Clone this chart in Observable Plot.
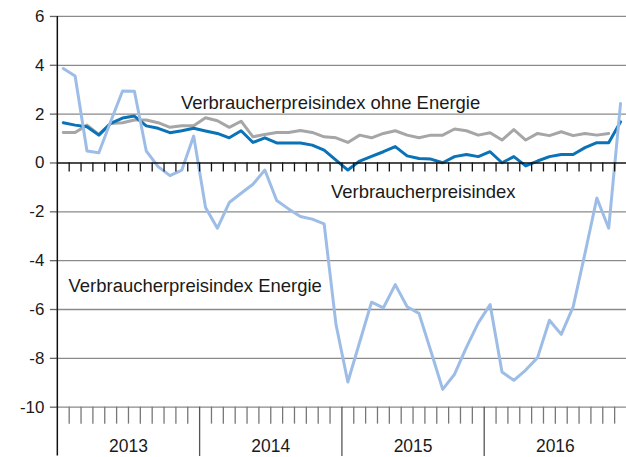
<!DOCTYPE html>
<html><head><meta charset="utf-8">
<script src="https://cdn.jsdelivr.net/npm/d3@7"></script>
<script src="https://cdn.jsdelivr.net/npm/@observablehq/plot@0.6"></script>
<style>html,body{margin:0;padding:0;background:#fff;overflow:hidden}</style>
</head><body><div id="chart"></div>
<script>
const years = ["2013", "2014", "2015", "2016"];
const vpi = [1.65,1.55,1.48,1.14,1.62,1.84,1.92,1.52,1.42,1.24,1.32,1.42,1.31,1.21,1.03,1.32,0.84,1.03,0.82,0.82,0.82,0.73,0.53,0.12,-0.29,0.08,0.27,0.46,0.67,0.29,0.18,0.16,0.01,0.26,0.35,0.26,0.46,0.01,0.26,-0.12,0.08,0.26,0.35,0.35,0.63,0.83,0.83,1.69];
const vpiOhneEnergie = [1.25,1.25,1.55,1.17,1.62,1.65,1.76,1.76,1.65,1.46,1.52,1.52,1.85,1.73,1.46,1.71,1.07,1.17,1.25,1.25,1.33,1.25,1.07,1.03,0.84,1.14,1.03,1.21,1.32,1.14,1.03,1.14,1.14,1.39,1.32,1.14,1.24,0.94,1.37,0.94,1.21,1.12,1.28,1.12,1.21,1.14,1.21,null];
const vpiEnergie = [3.87,3.56,0.49,0.42,1.7,2.95,2.94,0.49,-0.15,-0.52,-0.29,1.1,-1.82,-2.67,-1.62,-1.24,-0.87,-0.29,-1.54,-1.88,-2.19,-2.3,-2.49,-6.61,-8.97,-7.33,-5.7,-5.93,-4.98,-5.89,-6.16,-7.7,-9.27,-8.65,-7.55,-6.55,-5.8,-8.56,-8.9,-8.48,-7.97,-6.44,-7.02,-5.89,-3.7,-1.44,-2.67,2.44];
const yTicks = [-10, -8, -6, -4, -2, 0, 2, 4, 6];
const seriesLabels = ["Verbraucherpreisindex ohne Energie", "Verbraucherpreisindex", "Verbraucherpreisindex Energie"];
const labelMonth = [10.42, 23.08, 0.95];
const labelValue = [2.44, -1.2, -5.05];

const toPts = arr => arr.map((v, i) => ({x: i + 0.5, y: v}));
const monthBounds = d3.range(1, 48);
const minorBounds = monthBounds.filter(d => d % 12 !== 0);
const yearBounds = [12, 24, 36];
const labels = seriesLabels.map((t, i) => ({t, x: labelMonth[i], y: labelValue[i]}));

const chart = Plot.plot({
  width: 628, height: 457,
  marginLeft: 57, marginRight: 0, marginTop: 16, marginBottom: 49,
  x: {domain: [0, 48], axis: null},
  y: {domain: [-10, 6], axis: null},
  style: {fontFamily: "'Liberation Sans', Arial, sans-serif", background: "white", overflow: "visible"},
  marks: [
    Plot.ruleY(yTicks.filter(d => d !== 0), {stroke: "#8a8a8a", strokeWidth: 1.3}),
    Plot.axisY({ticks: yTicks, label: null, tickSize: 7, tickPadding: 6, fontSize: 17, stroke: "#666", fill: "#1a1a1a", strokeWidth: 1.3, tickFormat: d => String(d)}),
    Plot.ruleX(minorBounds, {x: d => d, y1: -10, y2: -10, insetBottom: -17, stroke: "#777", strokeWidth: 1.3}),
    Plot.ruleX(yearBounds, {x: d => d, y1: -10, y2: -10, insetBottom: -50, stroke: "#555", strokeWidth: 1.3}),
    Plot.axisX({ticks: [6, 18, 30, 42], label: null, tickSize: 0, tickPadding: 33, fontSize: 17.5, fill: "#1a1a1a", tickFormat: d => years[Math.floor(d / 12)]}),
    Plot.line(toPts(vpiOhneEnergie), {x: "x", y: "y", stroke: "#a6a6a6", strokeWidth: 3}),
    Plot.line(toPts(vpi), {x: "x", y: "y", stroke: "#0a72b6", strokeWidth: 3}),
    Plot.line(toPts(vpiEnergie), {x: "x", y: "y", stroke: "#9dbde7", strokeWidth: 3}),
    Plot.ruleY([0], {stroke: "#111", strokeWidth: 1.5}),
    Plot.ruleX(monthBounds, {x: d => d, y1: 0, y2: 0, insetBottom: -9, stroke: "#111", strokeWidth: 1.3}),
    Plot.ruleX([0], {y1: 6, y2: -10, insetBottom: -49, stroke: "#111", strokeWidth: 1.5}),
    Plot.text(labels, {x: "x", y: "y", text: "t", textAnchor: "start", fontSize: 18.5, fill: "#1a1a1a"})
  ]
});
document.getElementById("chart").appendChild(chart);
</script>
</body></html>
